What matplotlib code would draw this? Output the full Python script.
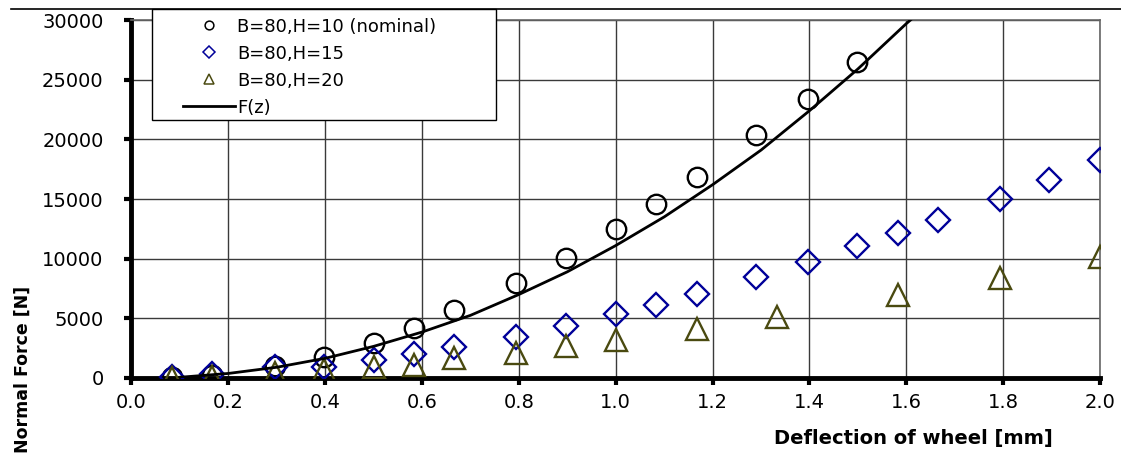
import matplotlib
matplotlib.use("Agg")
import matplotlib.pyplot as plt
from matplotlib.lines import Line2D
from matplotlib.patches import Rectangle

# deflection [mm] and normal force [N]
z_h10 = [0.083, 0.167, 0.296, 0.398, 0.501, 0.584, 0.666, 0.794, 0.897, 1.0, 1.083, 1.167, 1.29, 1.396, 1.498]
f_h10 = [110, 250, 1000, 1730, 2960, 4200, 5700, 7930, 10050, 12450, 14570, 16810, 20350, 23340, 26490]

z_h15 = [0.083, 0.167, 0.296, 0.398, 0.501, 0.584, 0.666, 0.794, 0.897, 1.0, 1.083, 1.167, 1.29, 1.396, 1.499, 1.583, 1.665, 1.793, 1.894, 2.0]
f_h15 = [100, 300, 900, 880, 1510, 2010, 2570, 3460, 4350, 5330, 6110, 7030, 8430, 9710, 11050, 12120, 13230, 14960, 16580, 18260]

z_h20 = [0.083, 0.167, 0.296, 0.398, 0.501, 0.584, 0.666, 0.794, 0.897, 1.0, 1.168, 1.332, 1.583, 1.793, 2.0]
f_h20 = [0, 50, 390, 670, 950, 1090, 1650, 2070, 2700, 3180, 4080, 5080, 6950, 8400, 10160]

z_fit = [0.10, 0.20, 0.30, 0.40, 0.50, 0.60, 0.70, 0.80, 0.90, 1.00, 1.10, 1.20, 1.30, 1.40, 1.50, 1.60, 1.62]
f_fit = [60, 380, 900, 1650, 2650, 3850, 5250, 7000, 8900, 11100, 13500, 16200, 19100, 22400, 25900, 29700, 30400]

x_ticks = [0.0, 0.2, 0.4, 0.6, 0.8, 1.0, 1.2, 1.4, 1.6, 1.8, 2.0]
y_ticks = [0, 5000, 10000, 15000, 20000, 25000, 30000]

plt.rcParams['font.family'] = ['DejaVu Sans']

W, H = 1121, 453
fig = plt.figure(figsize=(W / 100, H / 100), dpi=100)
ax = fig.add_axes([0.1173, 0.1656, 0.8640, 0.7902])

ax.plot(z_h10, f_h10, 'o', ms=14, mfc='none', mec='black', mew=1.7, label='B=80,H=10 (nominal)', zorder=3)
ax.plot(z_h15, f_h15, 'D', ms=12.5, mfc='none', mec='#000099', mew=1.7, label='B=80,H=15', zorder=3)
ax.plot(z_h20, f_h20, '^', ms=16, mfc='none', mec='#4a4a10', mew=1.7, label='B=80,H=20', zorder=3)
ax.plot(z_fit, f_fit, '-', color='black', lw=2.0, label='F(z)', zorder=4)

ax.set_xlim(0, 2.0)
ax.set_ylim(0, 30000)
ax.set_xticks(x_ticks)
ax.set_xticklabels([f"{v:.1f}" for v in x_ticks])
ax.set_yticks(y_ticks)
ax.set_yticklabels([str(v) for v in y_ticks])
ax.tick_params(axis='both', labelsize=14, width=3, length=5, color='black')
ax.tick_params(axis='y', pad=15)
ax.tick_params(axis='x', pad=6)

ax.grid(True, color='#3a3a3a', lw=1.0)
ax.set_axisbelow(True)
for side in ['left', 'bottom']:
    ax.spines[side].set_linewidth(3.5)
    ax.spines[side].set_color('black')
for side in ['top', 'right']:
    ax.spines[side].set_linewidth(1.2)
    ax.spines[side].set_color('#666666')

fig.text(0.8145, 0.033, 'Deflection of wheel [mm]', fontsize=14, fontweight='bold', ha='center', va='center')
fig.text(0.02, 0.185, 'Normal Force [N]', fontsize=12.5, fontweight='bold', rotation=90, ha='center', va='center')

# legend box: frame drawn separately, its top meets the rule line
fig.add_artist(Rectangle((152 / W, 1 - 120 / H), 344 / W, 111 / H, transform=fig.transFigure,
                         facecolor='white', edgecolor='black', lw=1.0, zorder=2))
leg = fig.legend(loc='upper left', bbox_to_anchor=(183 / W, 1 - 17.5 / H), frameon=False,
                 fontsize=13, markerscale=0.45, handlelength=2.9, handletextpad=0.1,
                 labelspacing=0.5, borderpad=0, borderaxespad=0)
leg.set_zorder(5)
for h in leg.legend_handles:
    if h.get_marker() not in (None, 'None', ''):
        h.set_markeredgewidth(1.1)

# thin rule across the top of the picture
fig.add_artist(Line2D([0.01, 1.0], [1 - 9 / H, 1 - 9 / H], color='black', lw=1.2, zorder=10))

fig.savefig('out.png', dpi=100)
